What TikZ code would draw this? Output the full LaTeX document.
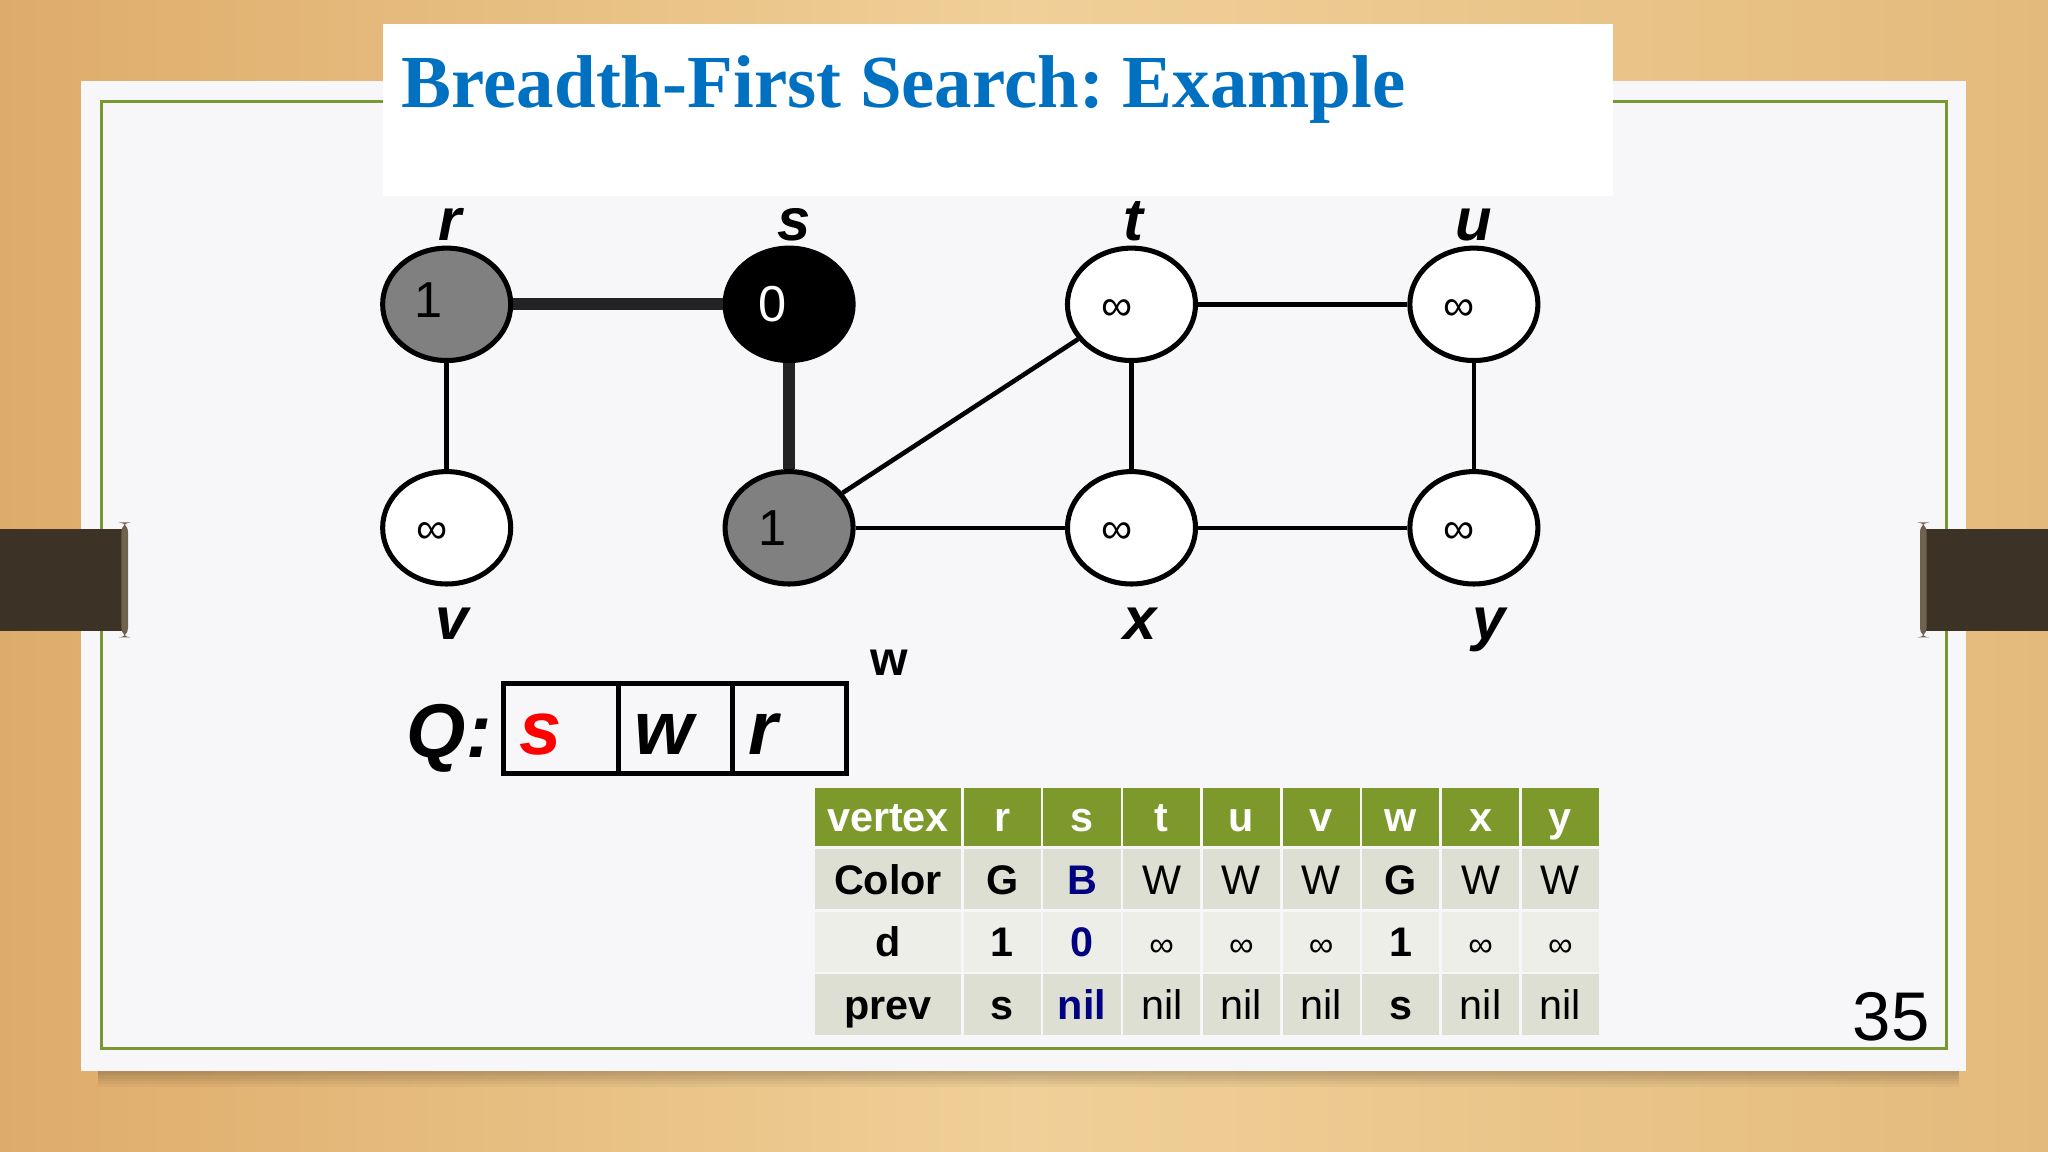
\documentclass[tikz,border=0pt]{standalone}
\usepackage{fontspec}
\setmainfont{Liberation Sans}
\newfontfamily\titlefont{Liberation Serif}
\usetikzlibrary{shapes.geometric, positioning, matrix}
\frenchspacing

\definecolor{woodleft}{RGB}{222,172,106}
\definecolor{woodmid}{RGB}{240,208,152}
\definecolor{woodright}{RGB}{228,186,124}
\definecolor{paperwhite}{RGB}{247,247,249}
\definecolor{framegreen}{RGB}{122,152,50}
\definecolor{clipbrown}{RGB}{61,50,38}
\definecolor{clipcap}{RGB}{112,98,76}
\definecolor{titleblue}{RGB}{0,112,192}
\definecolor{hdrgreen}{RGB}{126,153,43}
\definecolor{rowdark}{RGB}{220,223,210}
\definecolor{rowlight}{RGB}{238,238,233}
\definecolor{navy}{RGB}{0,0,128}
\definecolor{edgegray}{RGB}{35,35,35}
\definecolor{vgray}{RGB}{128,128,128}

\newcommand{\infsym}{{\fontsize{7.5}{7.5}\selectfont ∞}}

\begin{document}
\begin{tikzpicture}[x=0.01cm, y=-0.01cm, >=stealth, node distance=1.71cm and 2.62cm,
    vtx/.style={draw, ellipse, line width=1.1pt, minimum width=0.98cm, minimum height=0.86cm, inner sep=0pt, on grid, fill=white},
    val/.style={inner sep=0pt, font=\fontsize{11}{11}\selectfont},
    inf/.style={inner sep=0pt, font=\fontsize{9.5}{9.5}\selectfont},
    vname/.style={anchor=base, inner sep=0pt, font=\fontsize{13}{13}\selectfont\bfseries\itshape},
    gedge/.style={line width=1pt},
    tedge/.style={line width=2.6pt, draw=edgegray},
    qcell/.style={draw, line width=1.1pt, outer sep=0pt, minimum width=0.875cm, minimum height=0.69cm,
        text width=0.63cm, inner xsep=0.12cm, inner ysep=0.05cm, align=left, text height=0.41cm, text depth=0cm,
        font=\fontsize{16.5}{16.5}\selectfont\bfseries\itshape}]
    \useasboundingbox (0,0) rectangle (1568,882);
    \shade[left color=woodleft, right color=woodright, middle color=woodmid] (0,0) rectangle (1568,882);
    \foreach \d in {2,4,...,12}
        \fill[black, opacity=0.035] (75,820) rectangle (1500,820+\d);
    \fill[paperwhite] (62,62) rectangle (1505,820);
    \draw[framegreen, line width=0.6pt] (78,78) rectangle (1490,803);
    \fill[white] (293,18) rectangle (1235,150);
    \fill[clipbrown] (0,405) rectangle (97,483);
    \fill[clipcap, rounded corners=2pt] (93,400) rectangle (98,488);
    \fill[clipbrown] (1471,405) rectangle (1568,483);
    \fill[clipcap, rounded corners=2pt] (1470,400) rectangle (1475,488);

    \node[anchor=base west, inner sep=0pt, text=titleblue, font=\titlefont\bfseries\fontsize{16.3}{16.3}\selectfont] (title) at (307,82) {Breadth-First Search: Example};

    \node[vtx, fill=vgray] (r) at (342,233) {};
    \node[vtx, fill=black, right=of r] (s) {};
    \node[vtx, right=of s] (t) {};
    \node[vtx, right=of t] (u) {};
    \node[vtx, below=of r] (v) {};
    \node[vtx, fill=vgray, below=of s] (w) {};
    \node[vtx, below=of t] (x) {};
    \node[vtx, below=of u] (y) {};

    \node[val] (rd) at ([xshift=-0.14cm, yshift=0.03cm]r.center) {1};
    \node[val, text=white] (sd) at ([xshift=-0.13cm]s.center) {0};
    \node[inf] (td) at ([xshift=-0.11cm, yshift=-0.04cm]t.center) {∞};
    \node[inf] (ud) at ([xshift=-0.11cm, yshift=-0.04cm]u.center) {∞};
    \node[inf] (vd) at ([xshift=-0.11cm, yshift=-0.04cm]v.center) {∞};
    \node[val] (wd) at ([xshift=-0.13cm]w.center) {1};
    \node[inf] (xd) at ([xshift=-0.11cm, yshift=-0.04cm]x.center) {∞};
    \node[inf] (yd) at ([xshift=-0.11cm, yshift=-0.04cm]y.center) {∞};

    \draw[tedge] (r) -- (s);
    \draw[tedge] (s) -- (w);
    \draw[gedge] (r) -- (v);
    \draw[gedge] (w) -- (t);
    \draw[gedge] (w) -- (x);
    \draw[gedge] (t) -- (u);
    \draw[gedge] (t) -- (x);
    \draw[gedge] (u) -- (y);
    \draw[gedge] (x) -- (y);

    \node[vname] (rn) at (345,184) {r};
    \node[vname] (sn) at (608,184) {s};
    \node[vname] (tn) at (868,184) {t};
    \node[vname] (un) at (1128,184) {u};
    \node[vname] (vn) at (346,490) {v};
    \node[vname] (xn) at (873,490) {x};
    \node[vname] (yn) at (1140,490) {y};
    \node[anchor=base, inner sep=0pt, font=\fontsize{10.5}{10.5}\selectfont\bfseries] (wn) at (681,517) {w};

    \node[anchor=base east, inner sep=0pt, font=\fontsize{16.6}{16.6}\selectfont\bfseries\itshape] (qlab) at (377,580) {Q:};
    \node[qcell, text=red] (q1) at (429.5,557.5) {s};
    \node[qcell, right=0cm of q1] (q2) {w};
    \node[qcell, right=0cm of q2] (q3) {r};

    \matrix (tab) [matrix of nodes, column sep=0.02cm, row sep=0.02cm,
        nodes={minimum width=0.59cm, minimum height=0.46cm, text height=0.30cm, text depth=0.07cm,
            inner sep=0pt, anchor=center, font=\fontsize{9}{9}\selectfont},
        column 1/.style={nodes={minimum width=1.12cm}},
        row 1/.style={nodes={fill=hdrgreen, text=white, minimum height=0.45cm, font=\fontsize{9}{9}\selectfont\bfseries}},
        row 2/.style={nodes={fill=rowdark}},
        row 3/.style={nodes={fill=rowlight}},
        row 4/.style={nodes={fill=rowdark}}] at (924,697.5) {
        vertex & r & s & t & u & v & w & x & y \\
        \textbf{Color} & \textbf{G} & \textcolor{navy}{\textbf{B}} & W & W & W & \textbf{G} & W & W \\
        \textbf{d} & \textbf{1} & \textcolor{navy}{\textbf{0}} & \infsym & \infsym & \infsym & \textbf{1} & \infsym & \infsym \\
        \textbf{prev} & \textbf{s} & \textcolor{navy}{\textbf{nil}} & nil & nil & nil & \textbf{s} & nil & nil \\
    };

    \node[anchor=base east, inner sep=0pt, font=\fontsize{15}{15}\selectfont] (pnum) at (1478,797) {35};
\end{tikzpicture}
\end{document}
